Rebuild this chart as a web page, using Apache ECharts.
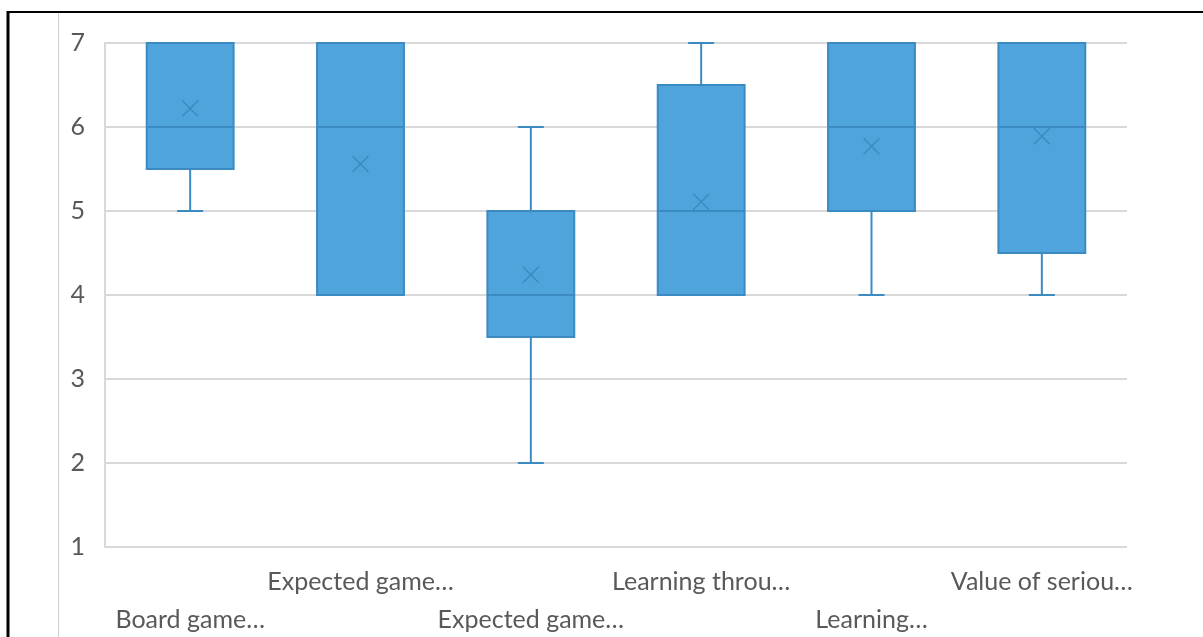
<!DOCTYPE html>
<html>
<head>
<meta charset="utf-8">
<script src="https://cdn.jsdelivr.net/npm/echarts@6/dist/echarts.min.js"></script>
<style>
  html, body { margin: 0; padding: 0; background: #fff; }
  #chart { width: 1203px; height: 637px; }
</style>
</head>
<body>
<div id="chart"></div>
<script>
// categories as shown (truncated in the original)
var categories = ['Board game…', 'Expected game…', 'Expected game…', 'Learning throu…', 'Learning…', 'Value of seriou…'];
var mins    = [5, 4, 2, 4, 4, 4];
var q1s     = [5.5, 4, 3.5, 4, 5, 4.5];
var medians = [6, 6, 4, 5, 6, 6];
var q3s     = [7, 7, 5, 6.5, 7, 7];
var maxs    = [7, 7, 6, 7, 7, 7];
var means   = [6.22, 5.56, 4.24, 5.11, 5.77, 5.89];
var yTicks  = [1, 2, 3, 4, 5, 6, 7];

var fillColor = '#4FA5DB';
var lineColor = '#3B8AC2';

var boxData = categories.map(function (c, i) {
    return [i, mins[i], q1s[i], medians[i], q3s[i], maxs[i], means[i]];
});

function renderBox(params, api) {
    var i = api.value(0);
    var band = api.size([1, 0])[0];
    var half = band * 0.255;
    var cap = 13;
    var pMin = api.coord([i, api.value(1)]);
    var pQ1 = api.coord([i, api.value(2)]);
    var pMed = api.coord([i, api.value(3)]);
    var pQ3 = api.coord([i, api.value(4)]);
    var pMax = api.coord([i, api.value(5)]);
    var pMean = api.coord([i, api.value(6)]);
    var x = pQ1[0];
    var lineStyle = { stroke: lineColor, lineWidth: 2 };
    var children = [];
    if (api.value(1) < api.value(2)) {
        children.push({ type: 'line', shape: { x1: x, y1: pQ1[1], x2: x, y2: pMin[1] }, style: lineStyle });
        children.push({ type: 'line', shape: { x1: x - cap, y1: pMin[1], x2: x + cap, y2: pMin[1] }, style: lineStyle });
    }
    if (api.value(5) > api.value(4)) {
        children.push({ type: 'line', shape: { x1: x, y1: pQ3[1], x2: x, y2: pMax[1] }, style: lineStyle });
        children.push({ type: 'line', shape: { x1: x - cap, y1: pMax[1], x2: x + cap, y2: pMax[1] }, style: lineStyle });
    }
    children.push({
        type: 'rect',
        shape: { x: x - half, y: pQ3[1], width: half * 2, height: pQ1[1] - pQ3[1] },
        style: { fill: fillColor, stroke: lineColor, lineWidth: 2 }
    });
    children.push({ type: 'line', shape: { x1: x - half, y1: pMed[1], x2: x + half, y2: pMed[1] }, style: lineStyle });
    var m = 8;
    children.push({ type: 'line', shape: { x1: pMean[0] - m, y1: pMean[1] - m, x2: pMean[0] + m, y2: pMean[1] + m }, style: { stroke: lineColor, lineWidth: 1.5 } });
    children.push({ type: 'line', shape: { x1: pMean[0] - m, y1: pMean[1] + m, x2: pMean[0] + m, y2: pMean[1] - m }, style: { stroke: lineColor, lineWidth: 1.5 } });
    return { type: 'group', children: children };
}

var chart = echarts.init(document.getElementById('chart'));
var option = {
    backgroundColor: '#fff',
    animation: false,
    textStyle: { fontFamily: 'Lato' },
    grid: { left: 105, right: 76, top: 43, bottom: 90, outerBoundsMode: 'none', containLabel: false },
    xAxis: {
        type: 'category',
        data: categories,
        axisLine: { show: false },
        axisTick: { show: false },
        axisLabel: {
            interval: 0,
            color: '#595959',
            fontSize: 25,
            fontFamily: 'Lato',
            lineHeight: 38,
            margin: 16,
            verticalAlign: 'top',
            formatter: function (v, idx) { return idx % 2 === 0 ? '\n' + v : v; }
        }
    },
    yAxis: {
        type: 'value',
        min: yTicks[0],
        max: yTicks[yTicks.length - 1],
        interval: 1,
        axisLine: { show: true, lineStyle: { color: '#D9D9D9', width: 2 } },
        axisTick: { show: false },
        splitLine: { lineStyle: { color: '#D9D9D9', width: 2 } },
        axisLabel: { color: '#595959', fontSize: 25, fontFamily: 'Lato', margin: 20 }
    },
    graphic: [
        { type: 'line', shape: { x1: 7, y1: 12, x2: 1203, y2: 12 }, style: { stroke: '#000', lineWidth: 2 } },
        { type: 'line', shape: { x1: 8, y1: 11, x2: 8, y2: 637 }, style: { stroke: '#000', lineWidth: 3 } },
        { type: 'line', shape: { x1: 58.5, y1: 13, x2: 58.5, y2: 637 }, style: { stroke: '#D0D0D0', lineWidth: 1 } }
    ],
    series: [{
        type: 'custom',
        renderItem: renderBox,
        encode: { x: 0, y: [1, 2, 3, 4, 5, 6] },
        data: boxData
    }]
};
chart.setOption(option);
</script>
</body>
</html>
